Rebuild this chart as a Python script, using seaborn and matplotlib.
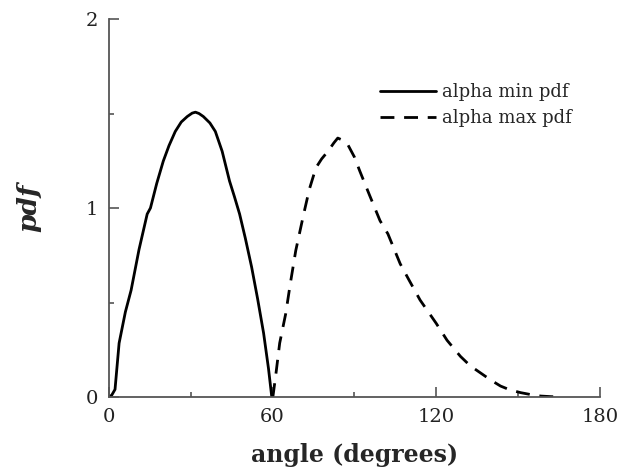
import numpy as np
import pandas as pd
import matplotlib
matplotlib.use("Agg")
import matplotlib.pyplot as plt
from matplotlib.ticker import MultipleLocator
import seaborn as sns

# --- Data ---
min_angle = [0, 1, 2.2, 3.7, 6, 8.1, 11, 14, 15.2, 17.5, 19.9, 22, 24.3, 26.5,
             28.7, 30.5, 31.7, 33, 34.6, 37, 39, 41.5, 44.2, 46, 47.9, 50, 52.3,
             54.5, 56.7, 58.5, 59.7]
min_pdf = [0, 0.01, 0.04, 0.285, 0.45, 0.565, 0.78, 0.968, 1.0, 1.13, 1.248,
           1.33, 1.405, 1.455, 1.484, 1.502, 1.507, 1.5, 1.484, 1.45, 1.405,
           1.30, 1.143, 1.06, 0.968, 0.84, 0.688, 0.52, 0.338, 0.15, 0]

max_angle = [60.1, 61.2, 62.6, 64.8, 66.5, 68.5, 71.4, 73.5, 75.9, 78, 80.3,
             82.5, 83.9, 85.5, 87.6, 90, 92, 95.5, 99.4, 102.3, 106.8, 110,
             114.1, 120, 124, 128.9, 132.5, 136.2, 140, 143.6, 147, 151, 155,
             158.4, 162, 165.8]
max_pdf = [0, 0.12, 0.285, 0.44, 0.6, 0.775, 0.968, 1.10, 1.213, 1.26, 1.30,
           1.345, 1.37, 1.36, 1.335, 1.27, 1.195, 1.07, 0.933, 0.863, 0.705,
           0.62, 0.513, 0.39, 0.30, 0.215, 0.165, 0.128, 0.09, 0.058, 0.038,
           0.023, 0.012, 0.005, 0.002, 0]

x_ticks = [0, 60, 120, 180]
y_ticks = [0, 1, 2]

df = pd.concat([
    pd.DataFrame({"angle": min_angle, "pdf": min_pdf, "series": "alpha min pdf"}),
    pd.DataFrame({"angle": max_angle, "pdf": max_pdf, "series": "alpha max pdf"}),
], ignore_index=True)

sns.set_theme(style="ticks")
plt.rcParams['font.family'] = ['DejaVu Serif']
plt.rcParams['xtick.direction'] = 'in'
plt.rcParams['ytick.direction'] = 'in'

fig = plt.figure(figsize=(6.28, 4.68), dpi=100)
ax = fig.add_axes([0.1736, 0.1517, 0.955 - 0.1736, 0.9594 - 0.1517])

sns.lineplot(data=df, x="angle", y="pdf", style="series",
             dashes={"alpha min pdf": "", "alpha max pdf": (5, 3.5)},
             color="black", linewidth=2.0, sort=False, estimator=None, ax=ax)

ax.set_xlim(0, 180)
ax.set_ylim(0, 2)
ax.set_xticks(x_ticks)
ax.set_yticks(y_ticks)
ax.xaxis.set_minor_locator(MultipleLocator(30))
ax.yaxis.set_minor_locator(MultipleLocator(0.5))
ax.tick_params(which='major', length=7, width=1.2, color='#555555',
               labelsize=14, labelcolor='#222222', pad=8)
ax.tick_params(which='minor', length=3.5, width=1.2, color='#555555')
sns.despine(ax=ax)
for s in ['left', 'bottom']:
    ax.spines[s].set_color('#555555')
    ax.spines[s].set_linewidth(1.3)

ax.set_xlabel("angle (degrees)", fontsize=17, fontweight='bold', labelpad=12)
ax.set_ylabel("pdf", fontsize=19, fontweight='bold', fontstyle='italic', labelpad=32)

leg = ax.legend(loc='upper left', bbox_to_anchor=(0.553, 0.83), frameon=False,
                fontsize=13, handlelength=3.1, handletextpad=0.3,
                labelspacing=0.42, borderaxespad=0, borderpad=0)
for line in leg.get_lines():
    line.set_linewidth(2.0)

fig.savefig("out.png", dpi=100)
